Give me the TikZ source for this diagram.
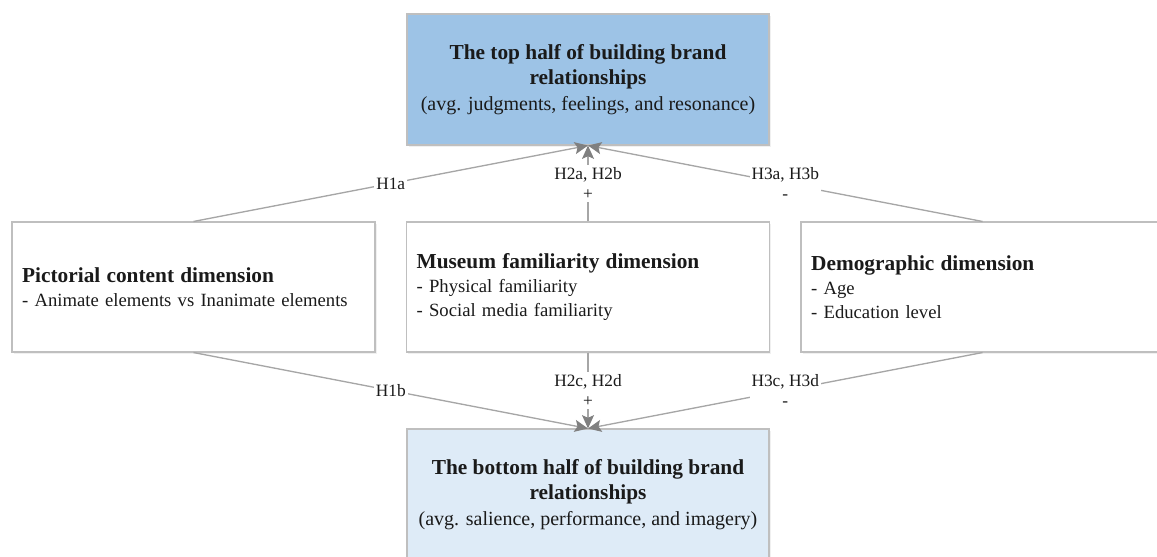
\documentclass[tikz,border=0pt]{standalone}
\usepackage{fontspec}
\setmainfont{Liberation Serif}
\usetikzlibrary{arrows.meta,shadows}
\definecolor{tophalf}{HTML}{9DC3E6}
\definecolor{bothalf}{HTML}{DEEBF7}
\definecolor{frame}{HTML}{BFBFBF}
\definecolor{linkgrey}{HTML}{A6A6A6}
\definecolor{tipgrey}{HTML}{808080}
\definecolor{ink}{HTML}{1A1A1A}
\newcommand{\headf}{\fontsize{16}{19}\selectfont}
\newcommand{\bodyf}{\fontsize{15}{18}\selectfont}
\newcommand{\itemf}{\fontsize{14}{18}\selectfont}
\newcommand{\tagf}{\fontsize{13}{15}\selectfont}

\begin{document}
\begin{tikzpicture}[x=0.75pt,y=-0.75pt,font=\bodyf,
  halfbox/.style={draw=frame,line width=0.8pt,minimum width=271.5pt,minimum height=98.25pt,
    align=center,inner sep=0,text=ink,font=\headf,
    drop shadow={opacity=0.12,shadow xshift=1.2pt,shadow yshift=-1.2pt}},
  dimbox/.style={draw=frame,fill=white,line width=0.8pt,minimum width=272.25pt,minimum height=97.5pt,
    text width=257pt,align=left,inner xsep=7.5pt,inner ysep=0,text=ink,font=\itemf,
    drop shadow={opacity=0.12,shadow xshift=1.2pt,shadow yshift=-1.2pt}},
  hyp/.style={draw=linkgrey,line width=1pt,-{Stealth[length=10pt,width=9pt,inset=2pt,color=tipgrey]}},
  tag/.style={fill=white,inner sep=1.5pt,font=\tagf,align=center,text=ink}]
\useasboundingbox (0,0) rectangle (1157,557);
% outcome boxes
\node[halfbox,fill=tophalf] (top) at (588,79.5)
  {\textbf{The top half of building brand}\\\textbf{relationships}\\{\bodyf (avg. judgments, feelings, and resonance)}};
\node[halfbox,fill=bothalf] (bottom) at (588,494.5)
  {\textbf{The bottom half of building brand}\\\textbf{relationships}\\{\bodyf (avg. salience, performance, and imagery)}};
% dimension boxes
\node[dimbox] (pictorial) at (193.5,287)
  {{\headf\bfseries Pictorial content dimension}\\- Animate elements vs Inanimate elements};
\node[dimbox] (museum) at (588,287)
  {{\headf\bfseries Museum familiarity dimension}\\- Physical familiarity\\- Social media familiarity};
\node[dimbox] (demo) at (982.5,287)
  {{\headf\bfseries Demographic dimension}\\- Age\\- Education level};
% hypotheses
\draw[hyp] (pictorial.north) -- node[tag] {H1a} (top.south);
\draw[hyp] (museum.north) -- node[tag] {H2a, H2b\\+} (top.south);
\draw[hyp] (demo.north) -- node[tag] {H3a, H3b\\-} (top.south);
\draw[hyp] (pictorial.south) -- node[tag] {H1b} (bottom.north);
\draw[hyp] (museum.south) -- node[tag] {H2c, H2d\\+} (bottom.north);
\draw[hyp] (demo.south) -- node[tag] {H3c, H3d\\-} (bottom.north);
\end{tikzpicture}
\end{document}
